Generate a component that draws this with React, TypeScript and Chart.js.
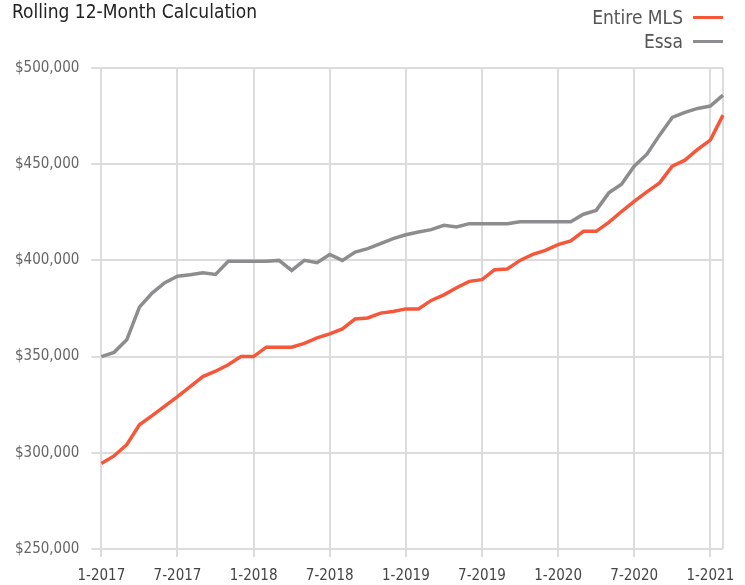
import React, { useEffect, useRef } from "react";
import { Chart, registerables } from "chart.js";

Chart.register(...registerables);

const months: string[] = [];
for (let y = 2017; y <= 2021; y++) {
  for (let m = 1; m <= 12; m++) {
    if (y === 2021 && m > 2) break;
    months.push(`${m}-${y}`);
  }
}

const entireMLS = [
  294.4, 298.4, 304.2, 314.6, 319.3, 324.3, 329.2, 334.4, 339.6, 342.4,
  345.8, 350.0, 350.0, 354.9, 354.9, 354.9, 356.9, 359.7, 361.8, 364.4,
  369.6, 370.1, 372.6, 373.4, 374.8, 374.8, 379.2, 382.1, 385.8, 389.1,
  390.0, 395.2, 395.5, 400.0, 403.1, 405.2, 408.2, 410.1, 415.1, 415.1,
  419.8, 425.4, 430.7, 435.6, 440.3, 449.0, 452.1, 457.7, 462.5, 475.5,
].map((v) => v * 1000);

const essa = [
  350.0, 352.2, 358.7, 375.7, 383.0, 388.4, 391.8, 392.5, 393.6, 392.7,
  399.5, 399.5, 399.5, 399.5, 400.0, 394.8, 400.0, 398.8, 403.1, 400.0,
  404.3, 406.1, 408.7, 411.3, 413.3, 414.8, 416.0, 418.2, 417.4, 419.1,
  419.1, 419.1, 419.1, 420.1, 420.1, 420.1, 420.1, 420.1, 424.0, 426.0,
  435.1, 439.6, 449.0, 455.2, 465.1, 474.3, 476.9, 479.0, 480.2, 485.9,
].map((v) => v * 1000);

const RED = "#F5573A";
const GRAY = "#8D8D8F";
const GRID = "#DCDCDC";
const FONT = "'Liberation Sans Narrow', 'DejaVu Sans Condensed', 'Arial Narrow', sans-serif";

export default function App() {
  const ref = useRef<HTMLCanvasElement | null>(null);
  useEffect(() => {
    if (!ref.current) return;
    const chart = new Chart(ref.current, {
      type: "line",
      data: {
        labels: months,
        datasets: [
          {
            label: "Entire MLS",
            data: entireMLS,
            borderColor: RED,
            backgroundColor: RED,
            borderWidth: 3.5,
            pointRadius: 0,
            tension: 0,
          },
          {
            label: "Essa",
            data: essa,
            borderColor: GRAY,
            backgroundColor: GRAY,
            borderWidth: 3.5,
            pointRadius: 0,
            tension: 0,
          },
        ],
      },
      options: {
        animation: false,
        responsive: false,
        maintainAspectRatio: false,
        layout: { padding: { top: 68, right: 22, left: 3, bottom: -10 } },
        plugins: {
          legend: { display: false },
          title: { display: false },
          tooltip: { enabled: false },
        },
        scales: {
          x: {
            type: "category",
            offset: false,
            grid: {
              color: (ctx: any) =>
                ctx.index % 6 === 0 || ctx.index === months.length - 1 ? GRID : "transparent",
              tickColor: (ctx: any) => (ctx.index % 6 === 0 ? GRID : "transparent"),
              lineWidth: 2,
              tickLength: 8,
            },
            border: { display: false },
            ticks: {
              autoSkip: false,
              maxRotation: 0,
              color: "#444",
              font: { family: FONT, size: 15 },
              padding: 10,
              callback: (_v: any, i: number) => (i % 6 === 0 ? months[i] : ""),
            },
          },
          y: {
            min: 250000,
            max: 500000,
            grid: { color: GRID, lineWidth: 2, tickLength: 10 },
            border: { display: false },
            ticks: {
              stepSize: 50000,
              color: "#666",
              font: { family: FONT, size: 15 },
              padding: 12,
              callback: (v: any) => "$" + Number(v).toLocaleString("en-US"),
            },
          },
        },
      },
    });
    return () => chart.destroy();
  }, []);

  const legendRow = (label: string, color: string, top: number) => (
    <div
      style={{
        position: "absolute",
        right: 22,
        top,
        display: "flex",
        alignItems: "center",
        gap: 10,
        fontFamily: FONT,
        fontSize: 19,
        color: "#555",
      }}
    >
      <span>{label}</span>
      <span style={{ display: "inline-block", width: 30, height: 3, background: color }} />
    </div>
  );

  return (
    <div style={{ position: "fixed", left: 0, top: 0, width: 745, height: 585, background: "#fff" }}>
      <canvas ref={ref} width={745} height={585} style={{ position: "absolute", left: 0, top: 0 }} />
      <div
        style={{
          position: "absolute",
          left: 12,
          top: -1,
          fontFamily: FONT,
          fontSize: 20,
          color: "#222",
          transform: "scaleX(0.95)",
          transformOrigin: "left top",
          whiteSpace: "nowrap",
        }}
      >
        Rolling 12-Month Calculation
      </div>
      {legendRow("Entire MLS", RED, 6)}
      {legendRow("Essa", GRAY, 30)}
    </div>
  );
}
